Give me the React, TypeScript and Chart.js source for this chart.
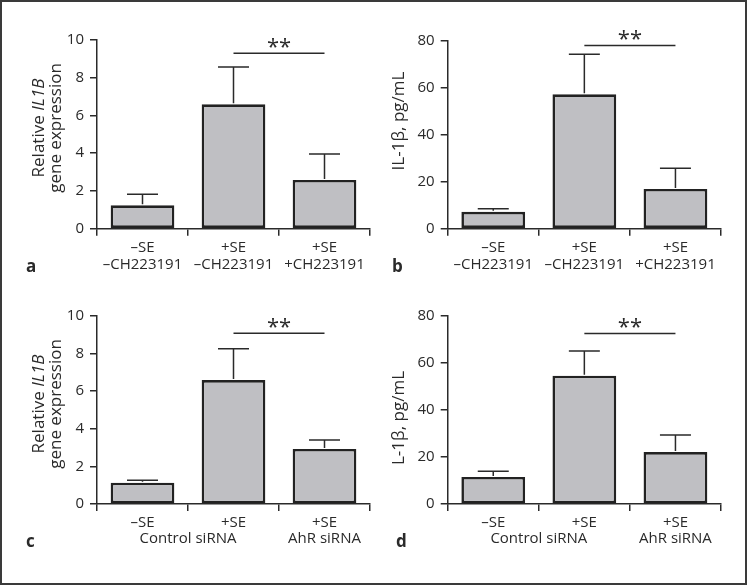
import React, { useEffect, useRef } from "react";
import { Chart, registerables } from "chart.js";
Chart.register(...registerables);

// ---------- data ----------
const labelsAB: string[][] = [
  ["–SE", "–CH223191"],
  ["+SE", "–CH223191"],
  ["+SE", "+CH223191"],
];
const labelsCD: string[] = ["–SE", "+SE", "+SE"];
const groupsCD = [
  { text: "Control siRNA", from: 0, to: 1 },
  { text: "AhR siRNA", from: 2, to: 2 },
];

const meanA = [1.24, 6.59, 2.58];
const errA = [0.58, 1.98, 1.38];
const meanB = [7.2, 57.2, 16.9];
const errB = [1.3, 17.0, 8.8];
const meanC = [1.13, 6.58, 2.92];
const errC = [0.13, 1.67, 0.48];
const meanD = [11.5, 54.6, 22.1];
const errD = [2.4, 10.5, 7.3];

const sigA = { from: 1, to: 2, y: 9.3, text: "**" };
const sigB = { from: 1, to: 2, y: 78, text: "**" };
const sigC = { from: 1, to: 2, y: 9.07, text: "**" };
const sigD = { from: 1, to: 2, y: 72.6, text: "**" };

const yMaxGene = 10;
const yStepGene = 2;
const yMaxIL = 80;
const yStepIL = 20;

const titleGene = [
  [{ t: "Relative ", it: false }, { t: "IL1B", it: true }],
  [{ t: "gene expression", it: false }],
];
const titleB = [[{ t: "IL-1β, pg/mL", it: false }]];
const titleD = [[{ t: "L-1β, pg/mL", it: false }]];

// ---------- style / layout ----------
const W = 747;
const H = 585;
const FONT = "'Open Sans', 'Noto Sans', sans-serif";
const INK = "#2a2a2a";

type Seg = { t: string; it: boolean };
type Panel = {
  labels: any[];
  mean: number[];
  err: number[];
  sig: { from: number; to: number; y: number; text: string };
  yMax: number;
  yStep: number;
  area: { l: number; r: number; t: number; b: number };
  title: Seg[][];
  titleBase: number[];
  titleCenter: number;
  letter: string;
  letterPos: [number, number];
  groups?: { text: string; from: number; to: number }[];
};

const panels: Panel[] = [
  {
    labels: labelsAB, mean: meanA, err: errA, sig: sigA, yMax: yMaxGene, yStep: yStepGene,
    area: { l: 97, r: 370, t: 40, b: 228.7 }, title: titleGene, titleBase: [43.5, 60.5], titleCenter: 128,
    letter: "a", letterPos: [26, 272],
  },
  {
    labels: labelsAB, mean: meanB, err: errB, sig: sigB, yMax: yMaxIL, yStep: yStepIL,
    area: { l: 447.7, r: 721, t: 40.7, b: 228.7 }, title: titleB, titleBase: [404], titleCenter: 121,
    letter: "b", letterPos: [392, 272],
  },
  {
    labels: labelsCD, mean: meanC, err: errC, sig: sigC, yMax: yMaxGene, yStep: yStepGene,
    area: { l: 97, r: 370, t: 315.7, b: 504 }, title: titleGene, titleBase: [43.5, 60.5], titleCenter: 404,
    letter: "c", letterPos: [26, 547], groups: groupsCD,
  },
  {
    labels: labelsCD, mean: meanD, err: errD, sig: sigD, yMax: yMaxIL, yStep: yStepIL,
    area: { l: 447.7, r: 721, t: 316, b: 504 }, title: titleD, titleBase: [404], titleCenter: 418,
    letter: "d", letterPos: [396, 547], groups: groupsCD,
  },
];

const annotPlugin = {
  id: "annot",
  afterDraw(chart: any, _args: any, opts: any) {
    const p: Panel = opts.panel;
    if (!p) return;
    const { ctx } = chart;
    const x = chart.scales.x;
    const y = chart.scales.y;
    const meta = chart.getDatasetMeta(0);
    ctx.save();
    ctx.strokeStyle = INK;
    ctx.fillStyle = INK;
    ctx.lineWidth = 1.5;
    // error bars (upper only)
    p.err.forEach((e, i) => {
      const el = meta.data[i];
      const cx = el.x;
      const top = y.getPixelForValue(p.mean[i]);
      const ey = y.getPixelForValue(p.mean[i] + e);
      ctx.beginPath();
      ctx.moveTo(cx, top - 1);
      ctx.lineTo(cx, ey);
      ctx.moveTo(cx - 15.5, ey);
      ctx.lineTo(cx + 15.5, ey);
      ctx.stroke();
    });
    // significance line
    const x1 = x.getPixelForValue(p.sig.from);
    const x2 = x.getPixelForValue(p.sig.to);
    const sy = y.getPixelForValue(p.sig.y);
    ctx.beginPath();
    ctx.moveTo(x1, sy);
    ctx.lineTo(x2, sy);
    ctx.stroke();
    ctx.font = `22px ${FONT}`;
    ctx.textAlign = "center";
    ctx.textBaseline = "alphabetic";
    const m = ctx.measureText(p.sig.text);
    const targetC = sy - 10;
    const by = targetC - (m.actualBoundingBoxDescent - m.actualBoundingBoxAscent) / 2;
    ctx.fillText(p.sig.text, (x1 + x2) / 2, by);
    // group labels
    if (p.groups) {
      ctx.font = `15px ${FONT}`;
      ctx.textBaseline = "middle";
      p.groups.forEach((g) => {
        const gx = (x.getPixelForValue(g.from) + x.getPixelForValue(g.to)) / 2;
        ctx.fillText(g.text, gx, chart.chartArea.bottom + 35);
      });
    }
    // y title
    ctx.textAlign = "left";
    ctx.textBaseline = "alphabetic";
    p.title.forEach((line, li) => {
      const fontOf = (s: Seg) => `${s.it ? "italic " : ""}17px ${FONT}`;
      let total = 0;
      line.forEach((s) => {
        ctx.font = fontOf(s);
        total += ctx.measureText(s.t).width;
      });
      ctx.save();
      ctx.translate(p.titleBase[li], p.titleCenter);
      ctx.rotate(-Math.PI / 2);
      let cx = -total / 2;
      line.forEach((s) => {
        ctx.font = fontOf(s);
        ctx.fillText(s.t, cx, 0);
        cx += ctx.measureText(s.t).width;
      });
      ctx.restore();
    });
    // panel letter
    ctx.font = `bold 17px ${FONT}`;
    ctx.textAlign = "left";
    ctx.fillText(p.letter, p.letterPos[0], p.letterPos[1]);
    ctx.restore();
  },
};

function PanelChart({ p }: { p: Panel }) {
  const ref = useRef<HTMLCanvasElement>(null);
  useEffect(() => {
    if (!ref.current) return;
    const YW = 70;
    const XH = 45;
    const chart = new Chart(ref.current, {
      type: "bar",
      data: {
        labels: p.labels,
        datasets: [
          {
            data: p.mean,
            backgroundColor: "#bfbfc3",
            borderColor: "#222222",
            borderWidth: 2.6,
            borderSkipped: false,
            barPercentage: 0.7,
            categoryPercentage: 1,
          },
        ],
      },
      options: {
        animation: false,
        responsive: false,
        devicePixelRatio: 1,
        layout: {
          padding: {
            left: p.area.l - YW,
            right: W - p.area.r,
            top: p.area.t,
            bottom: H - p.area.b - XH,
          },
        },
        plugins: {
          legend: { display: false },
          tooltip: { enabled: false },
          annot: { panel: p },
        } as any,
        scales: {
          x: {
            type: "category",
            offset: true,
            afterFit: (s: any) => {
              s.height = XH;
            },
            grid: {
              offset: true,
              drawOnChartArea: false,
              drawTicks: true,
              tickLength: 7,
              color: INK,
              lineWidth: 1.5,
            },
            border: { display: true, color: INK, width: 1.5 },
            ticks: {
              color: INK,
              font: { family: FONT, size: 15, lineHeight: 1.17 },
              padding: 3,
              maxRotation: 0,
              autoSkip: false,
            },
          },
          y: {
            min: 0,
            max: p.yMax,
            afterFit: (s: any) => {
              s.width = YW;
            },
            grid: {
              drawOnChartArea: false,
              drawTicks: true,
              tickLength: 7,
              color: INK,
              lineWidth: 1.5,
            },
            border: { display: true, color: INK, width: 1.5 },
            ticks: {
              stepSize: p.yStep,
              color: INK,
              font: { family: FONT, size: 15 },
              padding: 6,
            },
          },
        },
      },
      plugins: [annotPlugin],
    });
    return () => chart.destroy();
  }, [p]);
  return (
    <canvas
      ref={ref}
      width={W}
      height={H}
      style={{ position: "absolute", left: 0, top: 0, width: W, height: H }}
    />
  );
}

export default function App() {
  return (
    <div
      style={{
        position: "absolute",
        left: 0,
        top: 0,
        width: W,
        height: H,
        background: "#fff",
        overflow: "hidden",
      }}
    >
      {panels.map((p, i) => (
        <PanelChart key={i} p={p} />
      ))}
      <div
        style={{
          position: "absolute",
          left: 0,
          top: 0,
          width: W,
          height: H,
          boxSizing: "border-box",
          border: "2px solid #3a3a3a",
          pointerEvents: "none",
        }}
      />
    </div>
  );
}
